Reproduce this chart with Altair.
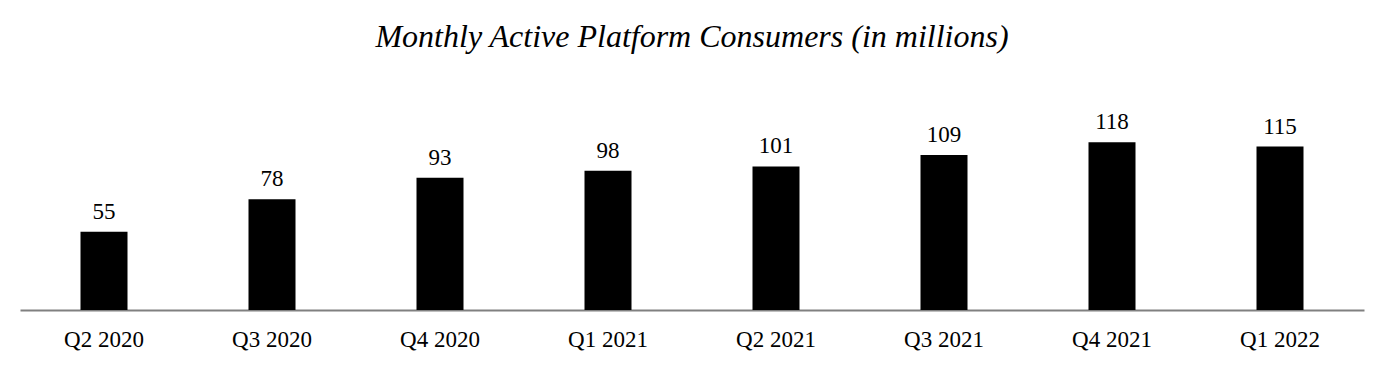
import altair as alt
import pandas as pd

quarters = ["Q2 2020", "Q3 2020", "Q4 2020", "Q1 2021", "Q2 2021", "Q3 2021", "Q4 2021", "Q1 2022"]
values = [55, 78, 93, 98, 101, 109, 118, 115]

df = pd.DataFrame({"quarter": quarters, "value": values})

FONT = "Liberation Serif"

base = alt.Chart(df).encode(
    x=alt.X(
        "quarter:N",
        sort=quarters,
        scale=alt.Scale(paddingInner=0, paddingOuter=0),
        axis=alt.Axis(
            title=None,
            labelAngle=0,
            labelFont=FONT,
            labelFontSize=23,
            labelColor="black",
            labelPadding=18,
            ticks=False,
            domainColor="#808080",
            domainWidth=2,
            grid=False,
        ),
    ),
    y=alt.Y(
        "value:Q",
        scale=alt.Scale(domain=[0, 140], nice=False, zero=True),
        axis=None,
    ),
)

bars = base.mark_bar(color="black", size=47)
labels = base.mark_text(
    font=FONT, fontSize=23, color="black", baseline="alphabetic", dy=-13
).encode(text="value:Q")

chart = (
    (bars + labels)
    .properties(
        width=1344,
        height=199,
        autosize=alt.AutoSizeParams(type="none"),
        padding={"left": 12, "top": 103, "right": 14, "bottom": 55},
        title=alt.TitleParams(
            "Monthly Active Platform Consumers (in millions)",
            font=FONT,
            fontSize=32,
            fontStyle="italic",
            fontWeight="normal",
            color="black",
            anchor="middle",
            offset=57,
        ),
    )
    .configure_view(stroke=None)
)

chart.save("out.html", embed_options={"renderer": "svg", "actions": False})
